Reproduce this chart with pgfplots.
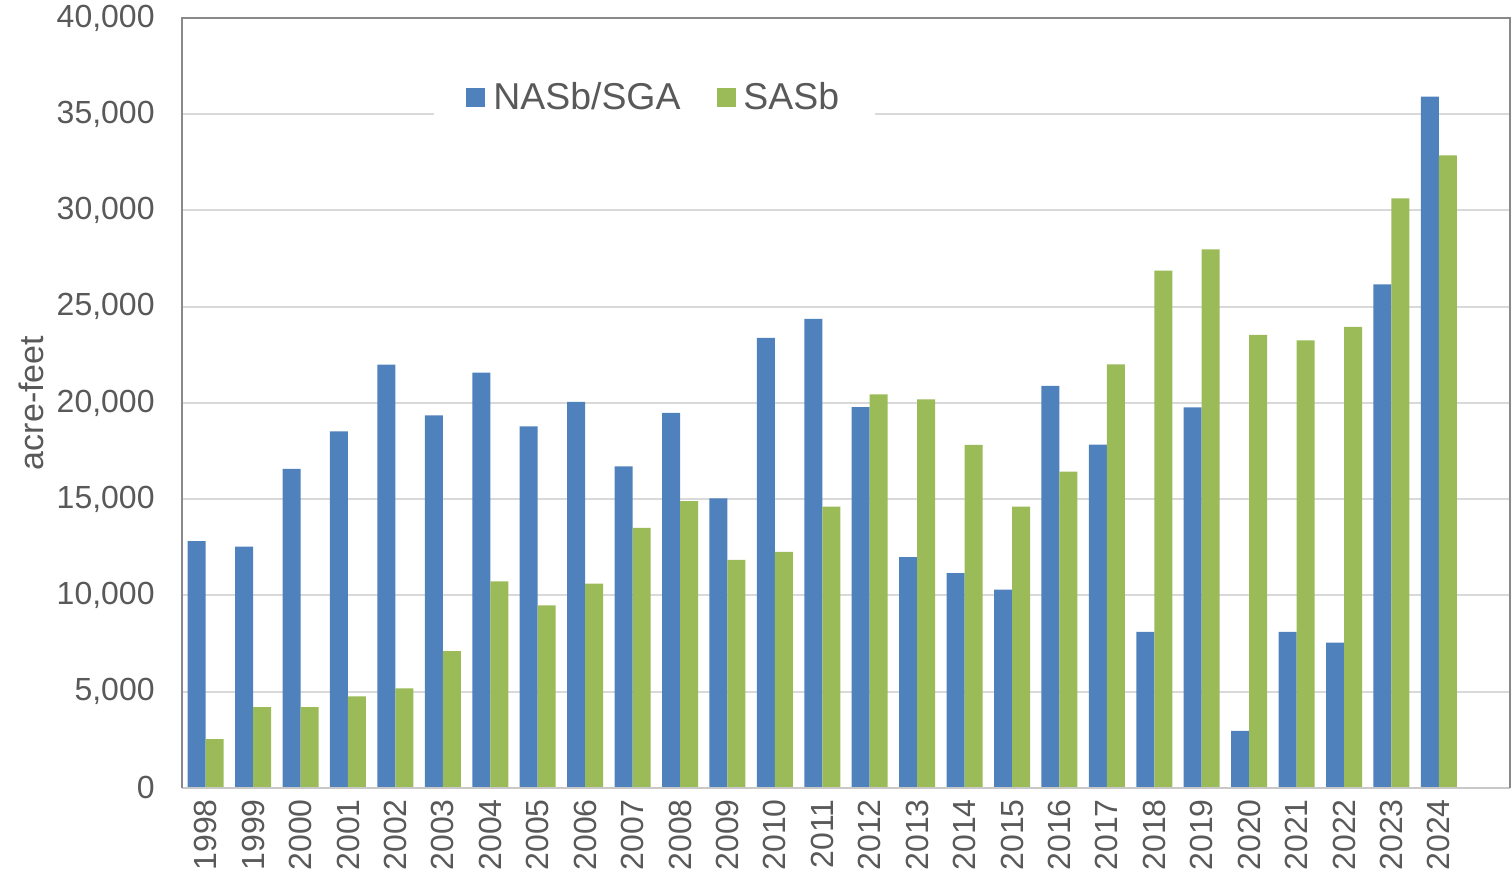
\documentclass[border=0pt]{standalone}
\usepackage{pgfplots}
\pgfplotsset{compat=1.18}
\usepackage{fontspec}
\setmainfont{Liberation Sans}
\definecolor{cblue}{HTML}{4F81BD}
\definecolor{cgreen}{HTML}{9BBB59}
\definecolor{ctext}{HTML}{595959}
\definecolor{cgrid}{HTML}{D9D9D9}
\definecolor{cframe}{HTML}{898989}
\definecolor{cbottom}{HTML}{C8C8C8}
\begin{document}
\begin{tikzpicture}
\begin{axis}[
  scale only axis, width=664bp, height=385bp,
  ybar=0pt, bar width=9bp,
  xmin=-0.5, xmax=27.5, ymin=0, ymax=40000,
  clip=false,
  axis line style={draw=none},
  xtick={0,1,...,26},
  xticklabels={1998,1999,2000,2001,2002,2003,2004,2005,2006,2007,2008,2009,2010,2011,2012,2013,2014,2015,2016,2017,2018,2019,2020,2021,2022,2023,2024},
  ytick={0,5000,...,40000},
  scaled y ticks=false,
  major tick length=0pt,
  tick style={draw=none},
  ymajorgrids, major grid style={cgrid, line width=1bp},
  ticklabel style={font=\fontsize{16bp}{19bp}\selectfont, text=ctext},
  yticklabel style={/pgf/number format/.cd, 1000 sep={,}, assume math mode=true, /tikz/.cd, anchor=east, inner sep=0pt, xshift=-13.5bp},
  xticklabel style={rotate=90, anchor=east, inner sep=5.5bp},
  ylabel={acre-feet},
  every axis y label/.style={at={([xshift=-75.5bp]rel axis cs:0,0.5)}, rotate=90, anchor=center, font=\fontsize{17bp}{20bp}\selectfont, text=ctext},
  legend columns=2,
  legend image code/.code={\fill[#1] (0bp,-4.75bp) rectangle (9.5bp,4.75bp); \path (11.5bp,0bp);},
  legend style={at={(rel axis cs:0.1898,0.897)}, anchor=west, fill=white, draw=none,
    inner xsep=16bp, inner ysep=6bp,
    font=\fontsize{18.7bp}{22bp}\selectfont, text=ctext,
    /tikz/every even column/.append style={column sep=16bp}},
]
\addplot[fill=cblue, draw=none] coordinates {
(0,12820) (1,12540) (2,16580) (3,18520) (4,21990) (5,19350) (6,21580) (7,18790) (8,20060) (9,16710)
(10,19490) (11,15040) (12,23380) (13,24370) (14,19780) (15,11990) (16,11160) (17,10310) (18,20890) (19,17836)
(20,8108) (21,19774) (22,2966) (23,8108) (24,7552) (25,26163) (26,35909)};
\addlegendentry{NASb/SGA}
\addplot[fill=cgreen, draw=none] coordinates {
(0,2540) (1,4200) (2,4200) (3,4760) (4,5170) (5,7110) (6,10730) (7,9480) (8,10610) (9,13510)
(10,14900) (11,11850) (12,12270) (13,14620) (14,20450) (15,20190) (16,17820) (17,14620) (18,16440) (19,22000)
(20,26873) (21,27985) (22,23534) (23,23246) (24,23956) (25,30633) (26,32860)};
\addlegendentry{SASb}
\draw[cbottom, line width=1.2bp] (rel axis cs:0,0) -- (rel axis cs:1,0);
\draw[cframe, line width=1bp] (rel axis cs:0,0) -- (rel axis cs:0,1) -- (rel axis cs:1,1) -- (rel axis cs:1,0);
\coordinate (sw) at (rel axis cs:0,0);
\coordinate (ne) at (rel axis cs:1,1);
\end{axis}
\pgfresetboundingbox
\path[use as bounding box] ([shift={(-91bp,-42bp)}]sw) rectangle ([shift={(0.5bp,9bp)}]ne);
\end{tikzpicture}
\end{document}
